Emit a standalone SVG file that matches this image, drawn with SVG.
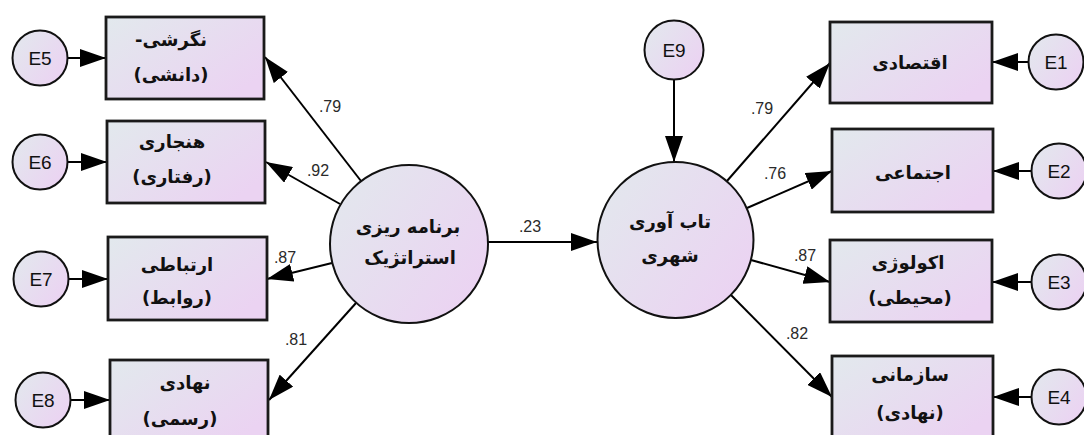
<svg xmlns="http://www.w3.org/2000/svg" width="1084" height="435" viewBox="0 0 1084 435">
<defs>
<linearGradient id="g" x1="0" y1="0" x2="1" y2="0.7">
<stop offset="0" stop-color="#e2e9ed"/>
<stop offset="1" stop-color="#ebd3f2"/>
</linearGradient>
<marker id="ah" markerUnits="userSpaceOnUse" viewBox="0 0 26 18" refX="26" refY="9" markerWidth="26" markerHeight="18" orient="auto">
<path d="M0,0 L26,9 L0,18 z" fill="#000"/>
</marker>
<style>
.box{fill:url(#g);stroke:#1a1a1a;stroke-width:2.8}
.lat{fill:url(#g);stroke:#111;stroke-width:2}
.err{fill:url(#g);stroke:#111;stroke-width:2}
.fa{font-family:"DejaVu Sans",sans-serif;font-weight:bold;font-size:18px;fill:#111;text-anchor:middle}
.el{font-family:"Liberation Sans",Arial,sans-serif;font-size:19px;fill:#111;text-anchor:middle}
.num{font-family:"Liberation Sans",Arial,sans-serif;font-size:16px;fill:#2a2a2a;text-anchor:middle}
.c line{stroke:#000;stroke-width:2;marker-end:url(#ah)}
</style>
</defs>
<rect width="1084" height="435" fill="#fff"/>
<g id="connectors" class="c">
<line x1="68" y1="58" x2="106" y2="58"/>
<line x1="68" y1="162" x2="107" y2="162"/>
<line x1="69" y1="279" x2="108" y2="279"/>
<line x1="71" y1="400" x2="110" y2="400"/>
<line x1="1028" y1="62" x2="992" y2="62"/>
<line x1="1031" y1="171" x2="993" y2="171"/>
<line x1="1031" y1="282" x2="992" y2="282"/>
<line x1="1031" y1="397" x2="993" y2="397"/>
<line x1="361" y1="181" x2="265" y2="57"/>
<line x1="340" y1="204" x2="266" y2="162"/>
<line x1="332" y1="263" x2="267" y2="279"/>
<line x1="356" y1="303" x2="269" y2="400"/>
<line x1="488" y1="242" x2="597" y2="242"/>
<line x1="674" y1="80" x2="674" y2="162"/>
<line x1="727" y1="181" x2="830" y2="63"/>
<line x1="747" y1="208" x2="832" y2="171"/>
<line x1="751" y1="260" x2="830" y2="282"/>
<line x1="731" y1="295" x2="832" y2="397"/>
</g>
<g id="labels">
<text class="num" x="330" y="112">.79</text>
<text class="num" x="318" y="176">.92</text>
<text class="num" x="285" y="263">.87</text>
<text class="num" x="296" y="345">.81</text>
<text class="num" x="530" y="232">.23</text>
<text class="num" x="762" y="114">.79</text>
<text class="num" x="775" y="179">.76</text>
<text class="num" x="805" y="261">.87</text>
<text class="num" x="797" y="339">.82</text>
</g>
<g id="B5"><rect class="box" x="106" y="17" width="158" height="82"/>
<text class="fa" direction="rtl" x="171" y="46">نگرشی-</text>
<text class="fa" direction="rtl" x="171" y="81">(دانشی)</text></g>
<g id="B6"><rect class="box" x="107" y="121" width="158" height="82"/>
<text class="fa" direction="rtl" x="172" y="148">هنجاری</text>
<text class="fa" direction="rtl" x="172" y="183">(رفتاری)</text></g>
<g id="B7"><rect class="box" x="108" y="237" width="159" height="83"/>
<text class="fa" direction="rtl" x="177" y="271">ارتباطی</text>
<text class="fa" direction="rtl" x="177" y="304">(روابط)</text></g>
<g id="B8"><rect class="box" x="110" y="360" width="158" height="82"/>
<text class="fa" direction="rtl" x="185" y="389">نهادی</text>
<text class="fa" direction="rtl" x="180" y="425">(رسمی)</text></g>
<g id="R1"><rect class="box" x="830" y="22" width="162" height="81"/>
<text class="fa" direction="rtl" x="910" y="69">اقتصادی</text></g>
<g id="R2"><rect class="box" x="832" y="129" width="161" height="83"/>
<text class="fa" direction="rtl" x="913" y="179">اجتماعی</text></g>
<g id="R3"><rect class="box" x="830" y="240" width="162" height="82"/>
<text class="fa" direction="rtl" x="908" y="269">اکولوژی</text>
<text class="fa" direction="rtl" x="910" y="304">(محیطی)</text></g>
<g id="R4"><rect class="box" x="832" y="356" width="161" height="82"/>
<text class="fa" direction="rtl" x="910" y="381">سازمانی</text>
<text class="fa" direction="rtl" x="910" y="419">(نهادی)</text></g>
<g id="L"><circle class="lat" cx="409" cy="244" r="79"/>
<text class="fa" direction="rtl" x="408" y="233">برنامه ریزی</text>
<text class="fa" direction="rtl" x="410" y="264">استراتژیک</text></g>
<g id="R"><circle class="lat" cx="675.5" cy="240" r="78"/>
<text class="fa" direction="rtl" x="670" y="228">تاب آوری</text>
<text class="fa" direction="rtl" x="670" y="262">شهری</text></g>
<g id="E5"><circle class="err" cx="40" cy="58" r="27.5"/><text class="el" x="40" y="65">E5</text></g>
<g id="E6"><circle class="err" cx="40" cy="162" r="27.5"/><text class="el" x="40" y="169">E6</text></g>
<g id="E7"><circle class="err" cx="41" cy="279" r="27.5"/><text class="el" x="41" y="286">E7</text></g>
<g id="E8"><circle class="err" cx="43" cy="400" r="27.5"/><text class="el" x="43" y="407">E8</text></g>
<g id="E9"><circle class="err" cx="674" cy="50" r="29.5"/><text class="el" x="674" y="57">E9</text></g>
<g id="E1"><circle class="err" cx="1056" cy="62" r="27.5"/><text class="el" x="1056" y="69">E1</text></g>
<g id="E2"><circle class="err" cx="1059" cy="171" r="27.5"/><text class="el" x="1059" y="178">E2</text></g>
<g id="E3"><circle class="err" cx="1059" cy="282" r="27.5"/><text class="el" x="1059" y="289">E3</text></g>
<g id="E4"><circle class="err" cx="1059" cy="397" r="27.5"/><text class="el" x="1059" y="404">E4</text></g>
</svg>
